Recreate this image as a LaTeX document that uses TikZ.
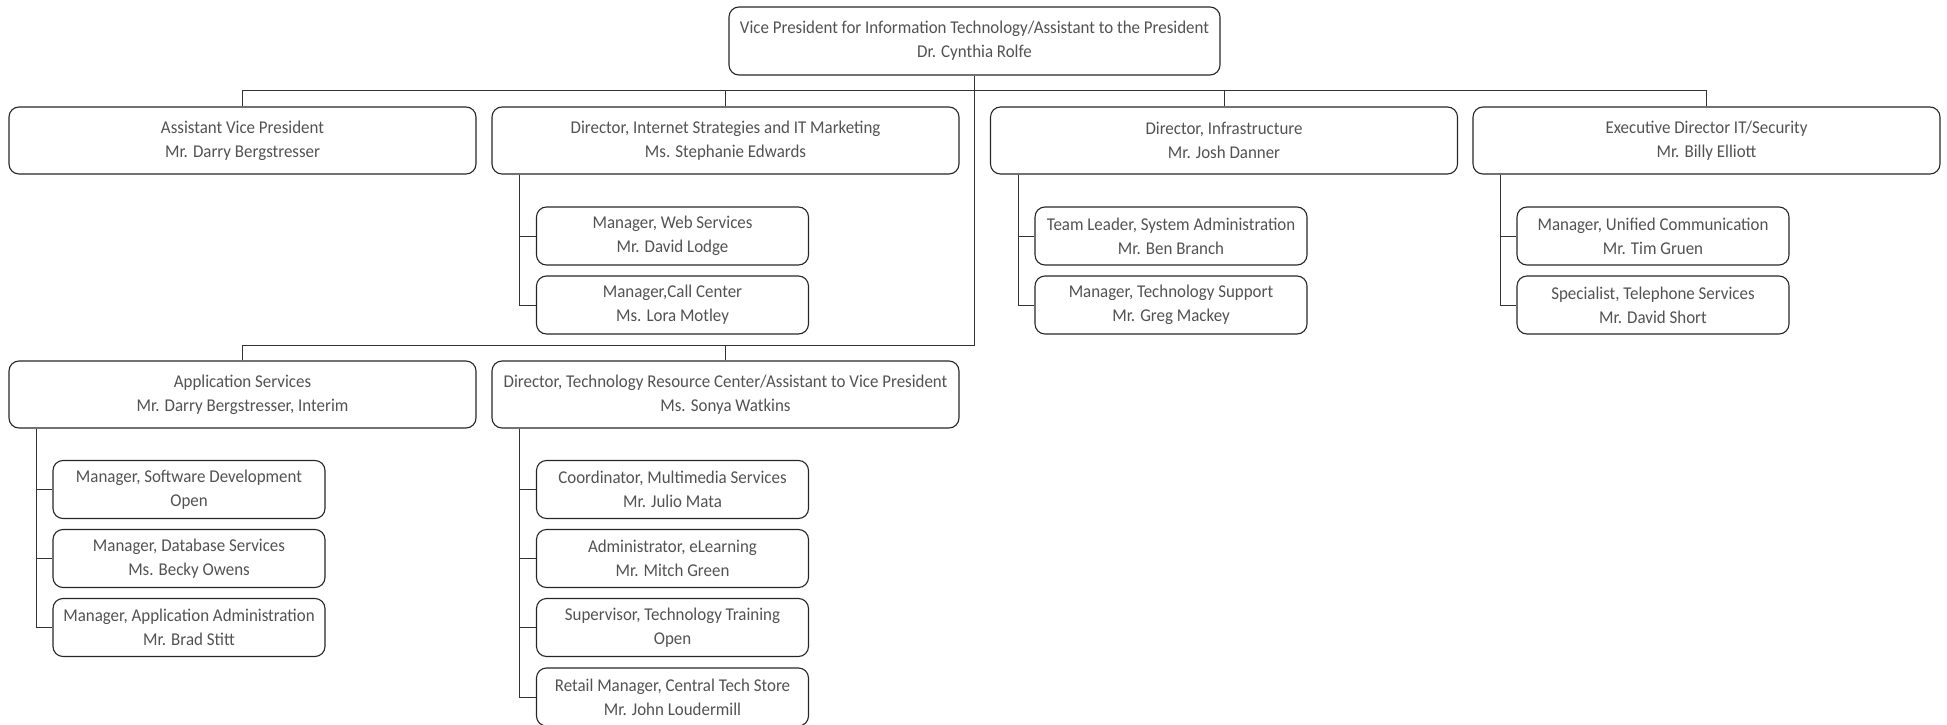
\documentclass[tikz,border=0pt]{standalone}
\usepackage{fontspec}
\setmainfont{Carlito}[FakeStretch=0.94]
\begin{document}
\begin{tikzpicture}[x=1pt,y=-1pt,
  box/.style={draw=black!85, line width=1.1pt, rounded corners=10pt, align=center, inner sep=0pt,
    text=black!68, font=\fontsize{18}{24}\selectfont},
  bigbox/.style={box, minimum width=467pt, minimum height=67pt},
  smallbox/.style={box, minimum width=272pt, minimum height=58pt},
  conn/.style={draw=black!80, line width=1pt}]
\useasboundingbox (0,0) rectangle (1947,725);
\coordinate (busA) at (0,91);
\coordinate (busB) at (0,345);
% top
\node[box, minimum width=491pt, minimum height=68pt] (vp) at (974.5,41)
  {Vice President for Information Technology/Assistant to the President\\Dr. Cynthia Rolfe};
% row 1
\node[bigbox] (avp) at (242.5,140.5) {Assistant Vice President\\Mr. Darry Bergstresser};
\node[bigbox] (dis) at (725.5,140.5) {Director, Internet Strategies and IT Marketing\\Ms. Stephanie Edwards};
\node[bigbox] (dinf) at (1224,140.5) {Director, Infrastructure\\Mr. Josh Danner};
\node[bigbox] (edit) at (1706.5,140.5) {Executive Director IT/Security\\Mr. Billy Elliott};
% row 1 children
\node[smallbox] (ws) at (672.5,236) {Manager, Web Services\\Mr. David Lodge};
\node[smallbox] (cc) at (672.5,305) {Manager,Call Center\\Ms. Lora Motley};
\node[smallbox] (tl) at (1171,236) {Team Leader, System Administration\\Mr. Ben Branch};
\node[smallbox] (ts) at (1171,305) {Manager, Technology Support\\Mr. Greg Mackey};
\node[smallbox] (uc) at (1653,236) {Manager, Unified Communication\\Mr. Tim Gruen};
\node[smallbox] (tel) at (1653,305) {Specialist, Telephone Services\\Mr. David Short};
% row 2
\node[bigbox] (as) at (242.5,394.5) {Application Services\\Mr. Darry Bergstresser, Interim};
\node[bigbox] (trc) at (725.5,394.5) {Director, Technology Resource Center/Assistant to Vice President\\Ms. Sonya Watkins};
% row 2 children
\node[smallbox] (sd) at (189,489.5) {Manager, Software Development\\Open};
\node[smallbox] (db) at (189,558.5) {Manager, Database Services\\Ms. Becky Owens};
\node[smallbox] (aa) at (189,627.5) {Manager, Application Administration\\Mr. Brad Stitt};
\node[smallbox] (mm) at (672.5,489.5) {Coordinator, Multimedia Services\\Mr. Julio Mata};
\node[smallbox] (el) at (672.5,558.5) {Administrator, eLearning\\Mr. Mitch Green};
\node[smallbox] (tt) at (672.5,627.5) {Supervisor, Technology Training\\Open};
\node[smallbox] (rm) at (672.5,697) {Retail Manager, Central Tech Store\\Mr. John Loudermill};
% connectors top level
\draw[conn] (vp.south) -- (vp.south |- busB);
\draw[conn] (avp.north) -- (avp.north |- busA) -- (edit.north |- busA) -- (edit.north);
\draw[conn] (dis.north) -- (dis.north |- busA);
\draw[conn] (dinf.north) -- (dinf.north |- busA);
\draw[conn] (as.north) -- (as.north |- busB) -- (vp.south |- busB);
\draw[conn] (trc.north) -- (trc.north |- busB);
% children connectors
\foreach \p/\c in {dis/ws, dis/cc, dinf/tl, dinf/ts, edit/uc, edit/tel, as/sd, as/db, as/aa, trc/mm, trc/el, trc/tt, trc/rm}
  \draw[conn] ([xshift=28.5pt]\p.south west) |- (\c.west);
\end{tikzpicture}
\end{document}
